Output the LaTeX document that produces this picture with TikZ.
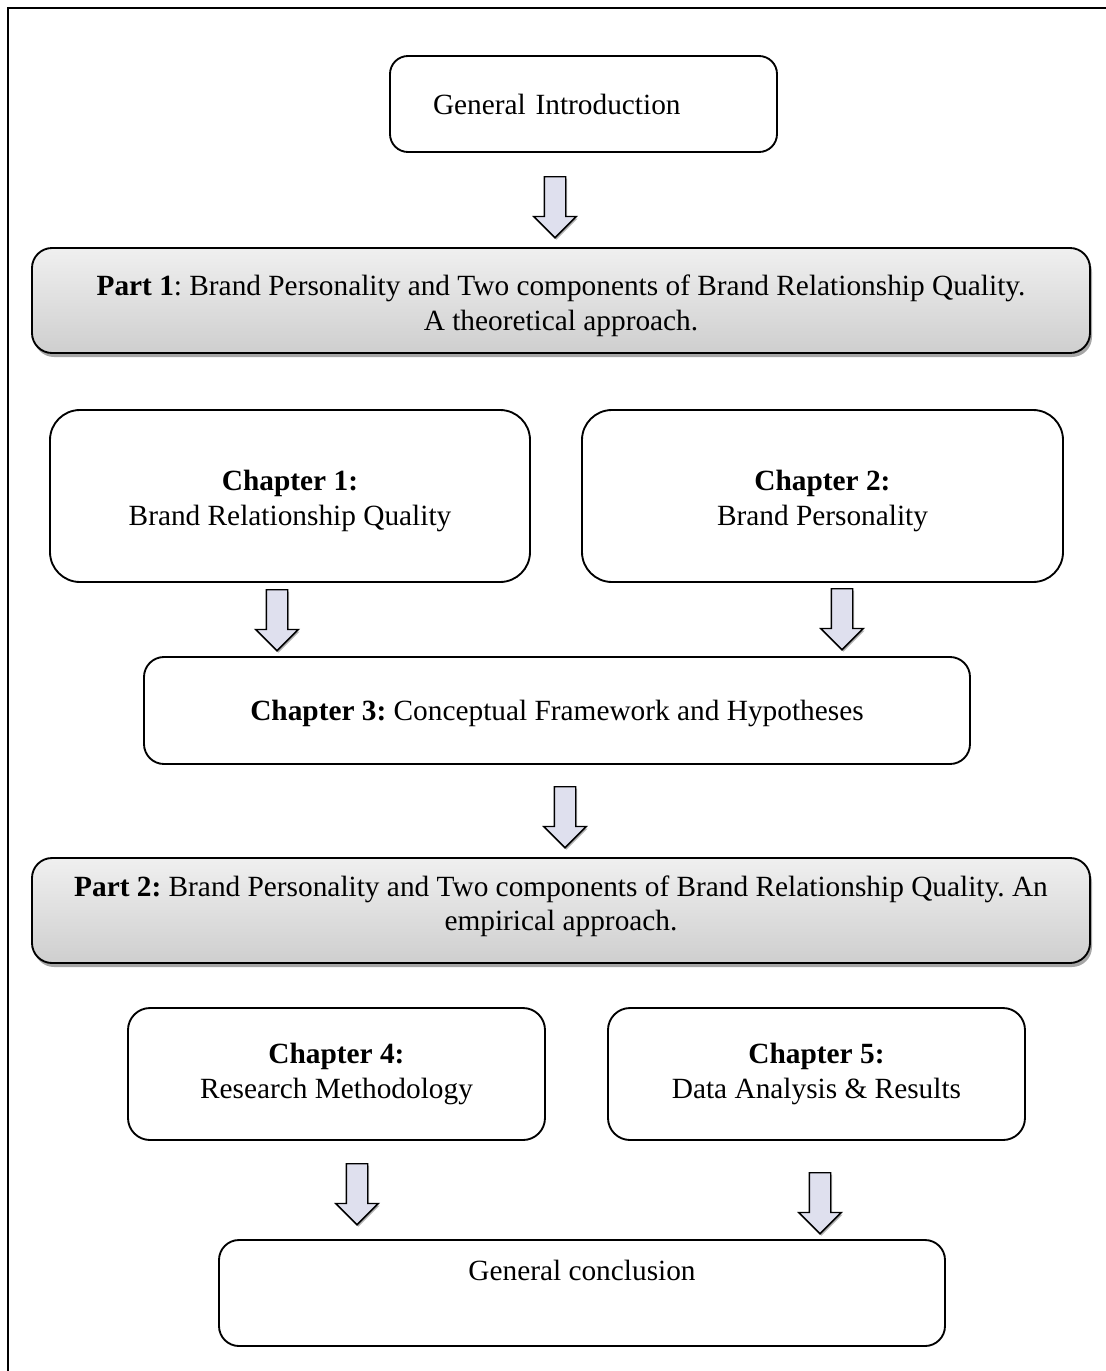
\documentclass[tikz,border=0pt]{standalone}
\usepackage{fontspec}
\setmainfont{Liberation Serif}
\frenchspacing
\usetikzlibrary{shapes.arrows,shadows}
\definecolor{arrowfill}{HTML}{DFE0EE}
\tikzset{every picture/.style={line width=0.75pt}}
\tikzset{
  chbox/.style={draw, line width=1.4pt, rounded corners=16.5pt, align=center,
    inner sep=0pt, font=\fontsize{22}{26}\selectfont},
  partbox/.style={chbox, rounded corners=15pt, top color=gray!12, bottom color=gray!38,
    drop shadow={shadow xshift=1.5pt, shadow yshift=-3pt, opacity=0.35, fill=black}},
  downarrow/.style={single arrow, draw, line width=1.1pt, fill=arrowfill, rotate=-90,
    anchor=tail, minimum height=45.75pt, minimum width=30.75pt, inner xsep=0pt,
    inner ysep=7.5pt, single arrow head extend=7.875pt,
    drop shadow={shadow xshift=1pt, shadow yshift=-1.5pt, opacity=0.3, fill=black}}
}

\begin{document}
\begin{tikzpicture}[x=0.75pt,y=0.75pt,yscale=-1,xscale=1]
\useasboundingbox (0,0) rectangle (1106,1371); %page of 1106 x 1371

%Frame
\draw [line width=1.5pt]  (8,1371) -- (8,8) -- (1106,8) ;

%Rounded Rect: introduction
\node [chbox, rounded corners=13.5pt, minimum height=72pt, text width=225.75pt, inner xsep=32.25pt, align=left] (intro) at (583.5,104) {General Introduction};
%Rounded Rect: part one
\node [partbox, minimum width=793.5pt, minimum height=78.75pt, text height=49pt] (part1) at (561,300.5) {\textbf{Part 1}: Brand Personality and Two components of Brand Relationship Quality.\\ A theoretical approach.};
%Rounded Rect: chapter one
\node [chbox, rounded corners=22.5pt, minimum width=360pt, minimum height=129pt, text height=48.5pt] (ch1) at (290,496) {\textbf{Chapter 1:}\\ Brand Relationship Quality};
%Rounded Rect: chapter two
\node [chbox, rounded corners=22.5pt, minimum width=360.75pt, minimum height=129pt, text height=48.5pt] (ch2) at (822.5,496) {\textbf{Chapter 2:}\\ Brand Personality};
%Rounded Rect: chapter three
\node [chbox, rounded corners=15pt, minimum width=619.5pt, minimum height=80.25pt, text height=20pt] (ch3) at (557,710.5) {\textbf{Chapter 3:} Conceptual Framework and Hypotheses};
%Rounded Rect: part two
\node [partbox, minimum width=793.5pt, minimum height=78.75pt, text height=35pt] (part2) at (561,910.5) {\textbf{Part 2:} Brand Personality and Two components of Brand Relationship Quality. An\\ empirical approach.};
%Rounded Rect: chapter four
\node [chbox, minimum width=312.75pt, minimum height=99pt] (ch4) at (336.5,1074) {\textbf{Chapter 4:}\\ Research Methodology};
%Rounded Rect: chapter five
\node [chbox, minimum width=312.75pt, minimum height=99pt] (ch5) at (816.5,1074) {\textbf{Chapter 5:}\\ Data Analysis \& Results};
%Rounded Rect: conclusion
\node [chbox, rounded corners=15pt, minimum width=544.5pt, minimum height=79.5pt, text depth=34pt] (concl) at (582,1293) {General conclusion};

%Block Arrows
\node [downarrow] (arr1) at (555,176) {};
\node [downarrow] (arr2) at (277,589) {};
\node [downarrow] (arr3) at (842,588) {};
\node [downarrow] (arr4) at (565,786) {};
\node [downarrow] (arr5) at (357,1163) {};
\node [downarrow] (arr6) at (820,1172) {};

\end{tikzpicture}
\end{document}
